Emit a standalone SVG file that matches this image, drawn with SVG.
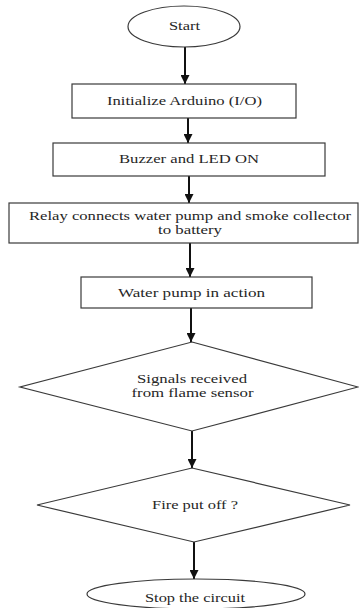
<svg xmlns="http://www.w3.org/2000/svg" width="359" height="608" viewBox="0 0 359 608">
<style>
.shape{fill:#fff;stroke:#3a3a3a;stroke-width:1.2}
.lbl{font-size:11.5px;fill:#262626;text-anchor:middle}
.conn{stroke:#111;stroke-width:2;fill:none;marker-end:url(#arr)}
</style>
<defs>
<marker id="arr" viewBox="0 0 10 10" refX="10" refY="5" markerUnits="userSpaceOnUse" markerWidth="9" markerHeight="9" orient="auto">
<path d="M0,0 L10,5 L0,10 z" fill="#111"/>
</marker>
</defs>
<rect width="359" height="608" fill="#fff"/>
<g id="connectors">
<line class="conn" x1="185" y1="47" x2="185" y2="84"/>
<line class="conn" x1="188" y1="118" x2="188" y2="143"/>
<line class="conn" x1="189" y1="176" x2="189" y2="203"/>
<line class="conn" x1="190" y1="243" x2="190" y2="277"/>
<line class="conn" x1="191" y1="308" x2="191" y2="342"/>
<line class="conn" x1="192" y1="431" x2="192" y2="468"/>
<line class="conn" x1="194" y1="542" x2="194" y2="579"/>
</g>
<g font-family="Liberation Serif, DejaVu Serif, serif">
<g id="start">
<ellipse class="shape" cx="184" cy="26.5" rx="56" ry="20.5"/>
<text class="lbl" x="184.5" y="30" textLength="31" lengthAdjust="spacingAndGlyphs">Start</text>
</g>
<g id="init">
<rect class="shape" x="72" y="84" width="224" height="34"/>
<text class="lbl" x="184.5" y="105" textLength="155" lengthAdjust="spacingAndGlyphs">Initialize Arduino (I/O)</text>
</g>
<g id="buzzer">
<rect class="shape" x="53" y="143" width="272" height="33"/>
<text class="lbl" x="189" y="163" textLength="140" lengthAdjust="spacingAndGlyphs">Buzzer and LED ON</text>
</g>
<g id="relay">
<rect class="shape" x="9" y="203" width="349" height="40"/>
<text class="lbl" x="190" y="220" textLength="322" lengthAdjust="spacingAndGlyphs">Relay connects water pump and smoke collector</text>
<text class="lbl" x="190" y="233.5" textLength="64" lengthAdjust="spacingAndGlyphs">to battery</text>
</g>
<g id="pump">
<rect class="shape" x="81" y="277" width="231" height="31"/>
<text class="lbl" x="191.5" y="297" textLength="147" lengthAdjust="spacingAndGlyphs">Water pump in action</text>
</g>
<g id="signals">
<polygon class="shape" points="192,342 358,387 192,431 20,387"/>
<text class="lbl" x="192" y="383" textLength="110" lengthAdjust="spacingAndGlyphs">Signals received</text>
<text class="lbl" x="192.5" y="397" textLength="122" lengthAdjust="spacingAndGlyphs">from flame sensor</text>
</g>
<g id="fire">
<polygon class="shape" points="192,468 350,505 194,542 37,505"/>
<text class="lbl" x="195" y="509" textLength="86" lengthAdjust="spacingAndGlyphs">Fire put off ?</text>
</g>
<g id="stop">
<ellipse class="shape" cx="196" cy="594" rx="109" ry="15"/>
<text class="lbl" x="195" y="602" textLength="100" lengthAdjust="spacingAndGlyphs">Stop the circuit</text>
</g>
</g>
</svg>
